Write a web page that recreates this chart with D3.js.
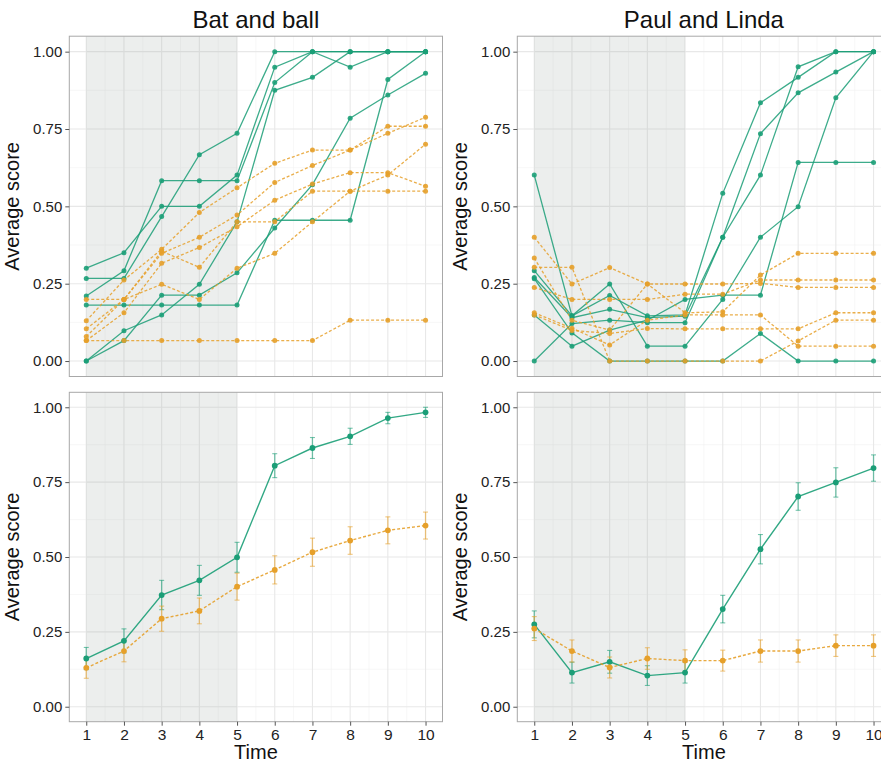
<!DOCTYPE html>
<html>
<head>
<meta charset="utf-8">
<script src="https://cdn.jsdelivr.net/npm/d3@7"></script>
<style>
  body { margin: 0; background: #fff; }
  text { font-family: "Liberation Sans", Arial, sans-serif; }
</style>
</head>
<body>
<div id="chart"></div>
<script>

// data
var times = [1, 2, 3, 4, 5, 6, 7, 8, 9, 10];
var yTicks = [0, 0.25, 0.5, 0.75, 1];

var batGreen = [
  [0.30, 0.35, 0.50, 0.50, 0.601, 0.95, 1.0, 1.0, 1.0, 1.0],
  [0.21, 0.292, 0.583, 0.583, 0.583, 0.90, 1.0, 0.95, 1.0, 1.0],
  [0.267, 0.267, 0.467, 0.667, 0.736, 1.0, 1.0, 1.0, 1.0, 1.0],
  [0, 0.098, 0.149, 0.248, 0.45, 0.875, 0.917, 1.0, 1.0, 1.0],
  [0, 0.066, 0.213, 0.213, 0.285, 0.43, 0.57, 0.785, 0.86, 0.93],
  [0.181, 0.181, 0.181, 0.181, 0.181, 0.455, 0.455, 0.455, 0.91, 1.0]
];
var batOrange = [
  [0.130, 0.262, 0.361, 0.480, 0.560, 0.639, 0.682, 0.682, 0.759, 0.759],
  [0.104, 0.199, 0.348, 0.400, 0.472, 0.577, 0.632, 0.682, 0.736, 0.788],
  [0.066, 0.156, 0.316, 0.367, 0.434, 0.520, 0.572, 0.609, 0.609, 0.565],
  [0.199, 0.199, 0.355, 0.303, 0.450, 0.450, 0.549, 0.549, 0.549, 0.549],
  [0.079, 0.199, 0.248, 0.199, 0.300, 0.348, 0.450, 0.549, 0.601, 0.701],
  [0.066, 0.066, 0.066, 0.066, 0.066, 0.066, 0.066, 0.132, 0.132, 0.132]
];
var paulGreen = [
  [0.292, 0.146, 0.212, 0.146, 0.149, 0.542, 0.835, 0.917, 1.0, 1.0],
  [0.270, 0.140, 0.167, 0.140, 0.145, 0.400, 0.735, 0.867, 0.934, 1.0],
  [0.266, 0.091, 0, 0, 0, 0, 0.089, 0, 0, 0],
  [0.601, 0.146, 0.249, 0.048, 0.048, 0.199, 0.400, 0.499, 0.851, 1.0],
  [0.149, 0.048, 0.100, 0.132, 0.199, 0.213, 0.213, 0.642, 0.642, 0.642],
  [0, 0.121, 0.132, 0.124, 0.124, 0.400, 0.601, 0.951, 1.0, 1.0]
];
var paulOrange = [
  [0.400, 0.249, 0.302, 0.249, 0.249, 0.249, 0.251, 0.238, 0.238, 0.238],
  [0.238, 0.199, 0.199, 0.199, 0.216, 0.216, 0.262, 0.262, 0.262, 0.262],
  [0.333, 0.132, 0.100, 0.249, 0.156, 0.159, 0.278, 0.348, 0.348, 0.348],
  [0.156, 0.106, 0.052, 0.132, 0.149, 0.149, 0.149, 0.048, 0.048, 0.048],
  [0.149, 0.099, 0.089, 0.105, 0.104, 0.104, 0.104, 0.104, 0.156, 0.156],
  [0.303, 0.303, 0, 0, 0, 0, 0, 0.065, 0.132, 0.132]
];

var batMeanGreen = [0.161, 0.220, 0.373, 0.422, 0.499, 0.805, 0.864, 0.903, 0.964, 0.983];
var batSeGreen = [0.037, 0.040, 0.049, 0.050, 0.050, 0.040, 0.035, 0.027, 0.019, 0.017];
var batMeanOrange = [0.130, 0.186, 0.294, 0.320, 0.401, 0.457, 0.516, 0.555, 0.589, 0.605];
var batSeOrange = [0.035, 0.036, 0.042, 0.043, 0.045, 0.047, 0.047, 0.046, 0.045, 0.045];
var paulMeanGreen = [0.275, 0.114, 0.150, 0.104, 0.114, 0.326, 0.526, 0.702, 0.749, 0.797];
var paulSeGreen = [0.045, 0.035, 0.038, 0.033, 0.035, 0.046, 0.049, 0.046, 0.049, 0.044];
var paulMeanOrange = [0.261, 0.186, 0.131, 0.161, 0.154, 0.154, 0.186, 0.186, 0.204, 0.204];
var paulSeOrange = [0.040, 0.037, 0.035, 0.036, 0.036, 0.035, 0.037, 0.037, 0.036, 0.036];

var green = "#1b9e77";
var orange = "#e6a02a";

var svg = d3.select("#chart")
  .append("svg")
  .attr("width", 881)
  .attr("height", 763);

var panelW = 373.2;

var panels = [
  {title: "Bat and ball", left: 69.3, top: 36.2, bottom: 376.5, green: batGreen, orange: batOrange},
  {title: "Paul and Linda", left: 517.3, top: 36.2, bottom: 376.5, green: paulGreen, orange: paulOrange},
  {left: 69.3, top: 392.3, bottom: 721.7, mean: [batMeanGreen, batSeGreen, batMeanOrange, batSeOrange], xlab: true},
  {left: 517.3, top: 392.3, bottom: 721.7, mean: [paulMeanGreen, paulSeGreen, paulMeanOrange, paulSeOrange], xlab: true}
];

panels.forEach(drawPanel);

function drawPanel(p) {
  var x = d3.scaleLinear().domain([0.55, 10.45]).range([p.left, p.left + panelW]);
  var y = d3.scaleLinear().domain([-0.05, 1.05]).range([p.bottom, p.top]);
  var g = svg.append("g");

  // minor grid
  var minorX = d3.range(1.5, 10, 1);
  var minorY = [0.125, 0.375, 0.625, 0.875];
  g.selectAll(".mx").data(minorX).enter().append("line")
    .attr("x1", d => x(d)).attr("x2", d => x(d))
    .attr("y1", p.top).attr("y2", p.bottom)
    .attr("stroke", "#f2f2f2").attr("stroke-width", 0.6);
  g.selectAll(".my").data(minorY).enter().append("line")
    .attr("x1", p.left).attr("x2", p.left + panelW)
    .attr("y1", d => y(d)).attr("y2", d => y(d))
    .attr("stroke", "#f2f2f2").attr("stroke-width", 0.6);
  // major grid
  g.selectAll(".gx").data(times).enter().append("line")
    .attr("x1", d => x(d)).attr("x2", d => x(d))
    .attr("y1", p.top).attr("y2", p.bottom)
    .attr("stroke", "#e8e8e8").attr("stroke-width", 1.1);
  g.selectAll(".gy").data(yTicks).enter().append("line")
    .attr("x1", p.left).attr("x2", p.left + panelW)
    .attr("y1", d => y(d)).attr("y2", d => y(d))
    .attr("stroke", "#e8e8e8").attr("stroke-width", 1.1);

  // shaded training phase
  g.append("rect")
    .attr("x", x(1)).attr("y", p.top)
    .attr("width", x(5) - x(1)).attr("height", p.bottom - p.top)
    .attr("fill", "#a1aaa6").attr("opacity", 0.2);

  var line = d3.line().x((d, i) => x(times[i])).y(d => y(d));

  if (p.green) {
    var groups = p.green.map(v => ({v: v, c: green, dash: null}))
      .concat(p.orange.map(v => ({v: v, c: orange, dash: "3,2"})));
    g.selectAll(".ln").data(groups).enter().append("path")
      .attr("d", d => line(d.v))
      .attr("fill", "none")
      .attr("stroke", d => d.c)
      .attr("stroke-width", 1.3)
      .attr("stroke-opacity", 0.85)
      .attr("stroke-dasharray", d => d.dash);
    groups.forEach(function(grp) {
      g.selectAll(null).data(grp.v).enter().append("circle")
        .attr("cx", (d, i) => x(times[i]))
        .attr("cy", d => y(d))
        .attr("r", 2.5)
        .attr("fill", grp.c)
        .attr("fill-opacity", 0.9);
    });
  } else {
    var sets = [
      {m: p.mean[0], se: p.mean[1], c: green, dash: null},
      {m: p.mean[2], se: p.mean[3], c: orange, dash: "3,2"}
    ];
    sets.forEach(function(s) {
      var eb = g.selectAll(null).data(s.m).enter().append("g");
      eb.append("line")
        .attr("x1", (d, i) => x(times[i])).attr("x2", (d, i) => x(times[i]))
        .attr("y1", (d, i) => y(d - s.se[i])).attr("y2", (d, i) => y(d + s.se[i]))
        .attr("stroke", s.c).attr("stroke-opacity", 0.6).attr("stroke-width", 1.3);
      [-1, 1].forEach(function(sign) {
        eb.append("line")
          .attr("x1", (d, i) => x(times[i]) - 2.5).attr("x2", (d, i) => x(times[i]) + 2.5)
          .attr("y1", (d, i) => y(d + sign * s.se[i])).attr("y2", (d, i) => y(d + sign * s.se[i]))
          .attr("stroke", s.c).attr("stroke-opacity", 0.6).attr("stroke-width", 1.1);
      });
    });
    sets.forEach(function(s) {
      g.append("path")
        .attr("d", line(s.m))
        .attr("fill", "none")
        .attr("stroke", s.c)
        .attr("stroke-width", 1.4)
        .attr("stroke-opacity", 0.9)
        .attr("stroke-dasharray", s.dash);
      g.selectAll(null).data(s.m).enter().append("circle")
        .attr("cx", (d, i) => x(times[i]))
        .attr("cy", d => y(d))
        .attr("r", 2.9)
        .attr("fill", s.c);
    });
  }

  // border
  g.append("rect")
    .attr("x", p.left).attr("y", p.top)
    .attr("width", panelW).attr("height", p.bottom - p.top)
    .attr("fill", "none").attr("stroke", "#a8a8a8").attr("stroke-width", 1);

  // y axis
  var yAxis = g.append("g")
    .attr("transform", `translate(${p.left},0)`)
    .call(d3.axisLeft(y).tickValues(yTicks).tickFormat(d3.format(".2f")).tickSize(4).tickPadding(3));
  yAxis.select(".domain").remove();
  yAxis.selectAll(".tick line").attr("stroke", "#555");
  yAxis.selectAll(".tick text")
    .attr("fill", "#222").style("font-size", "15px")
    .style("font-family", "'Liberation Sans', Arial, sans-serif");

  g.append("text")
    .attr("transform", `translate(${p.left - 50},${(p.top + p.bottom) / 2}) rotate(-90)`)
    .attr("text-anchor", "middle")
    .attr("fill", "#111")
    .style("font-size", "20px")
    .text("Average score");

  if (p.xlab) {
    var xAxis = g.append("g")
      .attr("transform", `translate(0,${p.bottom})`)
      .call(d3.axisBottom(x).tickValues(times).tickFormat(d3.format("d")).tickSize(4).tickPadding(3));
    xAxis.select(".domain").remove();
    xAxis.selectAll(".tick line").attr("stroke", "#555");
    xAxis.selectAll(".tick text")
      .attr("fill", "#222").style("font-size", "15.5px")
      .style("font-family", "'Liberation Sans', Arial, sans-serif");
    g.append("text")
      .attr("x", p.left + panelW / 2)
      .attr("y", 759)
      .attr("text-anchor", "middle")
      .attr("fill", "#111")
      .style("font-size", "20px")
      .text("Time");
  }

  if (p.title) {
    g.append("text")
      .attr("x", p.left + panelW / 2)
      .attr("y", 27.5)
      .attr("text-anchor", "middle")
      .attr("fill", "#111")
      .style("font-size", "24px")
      .text(p.title);
  }
}
</script>
</body>
</html>
